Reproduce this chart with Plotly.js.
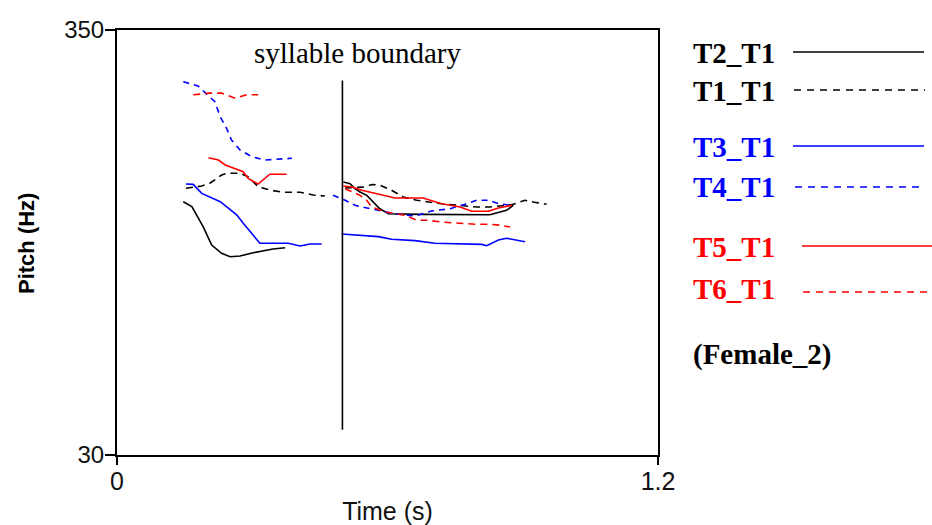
<!DOCTYPE html>
<html>
<head>
<meta charset="utf-8">
<script src="https://cdn.plot.ly/plotly-3.0.1.min.js"></script>
<style>html,body{margin:0;padding:0;background:#fff;}#chart{width:932px;height:525px;}</style>
</head>
<body>
<div id="chart"></div>
<script>
// Pitch contours (time in s, pitch in Hz); null separates the two syllables
const t2_t1_time  = [0.147,0.166,0.191,0.210,0.232,0.251,0.273,0.302,0.346,0.373, null, 0.502,0.517,0.528,0.539,0.554,0.565,0.583,0.602,0.676,0.827,0.864,0.879];
const t2_t1_pitch = [220.7,217.0,201.9,188.1,181.9,179.3,179.8,182.3,185.1,186.1, null, 235.6,234.3,230.5,228.0,225.5,221.8,215.4,211.7,211.2,210.9,214.2,218.0];

const t1_t1_time  = [0.153,0.188,0.206,0.232,0.243,0.273,0.291,0.313,0.339,0.369,0.406,0.435,0.461, null, 0.506,0.550,0.566,0.583,0.609,0.635,0.665,0.698,0.720,0.798,0.827,0.876,0.905,0.931,0.953];
const t1_t1_pitch = [230.8,232.5,234.6,240.8,242.1,242.1,239.5,232.0,229.5,227.8,227.8,225.8,225.0, null, 231.0,231.8,233.7,233.1,229.3,224.3,221.8,220.0,219.2,216.7,216.7,218.5,221.8,220.0,218.8];

const t3_t1_time  = [0.153,0.169,0.188,0.206,0.229,0.247,0.266,0.280,0.295,0.317,0.380,0.406,0.428,0.454, null, 0.498,0.532,0.580,0.609,0.661,0.705,0.809,0.820,0.846,0.864,0.883,0.905];
const t3_t1_pitch = [234.0,233.8,227.0,224.5,220.7,215.8,210.7,204.5,198.1,189.4,189.4,187.4,188.9,188.9, null, 196.4,195.6,194.4,192.4,191.4,189.4,188.6,187.6,191.9,193.2,191.9,190.6];

const t4_t1_time  = [0.147,0.180,0.217,0.229,0.243,0.254,0.273,0.299,0.328,0.388, null, 0.479,0.506,0.528,0.557,0.583,0.613,0.661,0.698,0.720,0.739,0.772,0.798,0.824,0.846,0.876];
const t4_t1_pitch = [311.1,307.8,296.0,284.7,276.0,267.2,259.6,254.6,252.1,253.4, null, 225.5,221.8,218.0,216.0,214.2,211.7,210.0,213.7,214.7,215.4,218.8,221.8,221.8,219.2,218.0];

const t5_t1_time  = [0.203,0.225,0.240,0.262,0.280,0.291,0.313,0.339,0.376, null, 0.502,0.521,0.543,0.565,0.595,0.617,0.679,0.720,0.739,0.761,0.787,0.824,0.846,0.876];
const t5_t1_pitch = [253.8,252.1,248.4,245.9,243.3,238.3,234.0,241.4,241.4, null, 232.5,231.8,229.3,227.5,225.5,223.5,223.5,219.2,218.0,216.7,213.5,213.5,216.0,218.0];

const t6_t1_time  = [0.169,0.206,0.232,0.262,0.288,0.313, null, 0.506,0.539,0.554,0.565,0.595,0.639,0.665,0.691,0.720,0.739,0.798,0.827,0.850,0.872];
const t6_t1_pitch = [301.2,302.5,302.5,298.7,301.2,301.2, null, 230.5,225.5,221.8,216.7,213.0,210.5,206.7,206.7,205.4,204.9,203.7,203.7,203.0,201.7];

const boundaryTime = [0.5, 0.5];
const boundaryPitch = [312, 49];

const seriesNames = ["T2_T1","T1_T1","T3_T1","T4_T1","T5_T1","T6_T1"];
const speakerLabel = "(Female_2)";
const xTickVals = [0, 1.2], xTickText = ["0", "1.2"];
const yTickVals = [30, 350], yTickText = ["30", "350"];

const BLACK = "#000000", BLUE = "#0000ff", RED = "#ff0000";

function tr(x, y, color, dash) {
  return {x: x, y: y, type: "scatter", mode: "lines", connectgaps: false,
          line: {color: color, width: 1.6, dash: dash}, hoverinfo: "skip", showlegend: false};
}

const traces = [
  tr(t2_t1_time, t2_t1_pitch, BLACK, "solid"),
  tr(t1_t1_time, t1_t1_pitch, BLACK, "7px,5px"),
  tr(t3_t1_time, t3_t1_pitch, BLUE, "solid"),
  tr(t4_t1_time, t4_t1_pitch, BLUE, "6px,5px"),
  tr(t5_t1_time, t5_t1_pitch, RED, "solid"),
  tr(t6_t1_time, t6_t1_pitch, RED, "7px,5px"),
  {x: boundaryTime, y: boundaryPitch, type: "scatter", mode: "lines",
   line: {color: BLACK, width: 1.6}, hoverinfo: "skip", showlegend: false}
];

// legend layout (paper coords relative to plot area 117..658 x 30..455)
const px = v => (v - 117) / 541;
const py = v => (455 - v) / 425;
const legendRows = [
  {name: seriesNames[0], color: BLACK, dash: "solid", y: 52, x0: 793, x1: 924},
  {name: seriesNames[1], color: BLACK, dash: "7px,6px", y: 90, x0: 794, x1: 925},
  {name: seriesNames[2], color: BLUE, dash: "solid", y: 146, x0: 793, x1: 924},
  {name: seriesNames[3], color: BLUE, dash: "7px,6px", y: 187, x0: 795, x1: 925},
  {name: seriesNames[4], color: RED, dash: "solid", y: 246, x0: 802, x1: 932},
  {name: seriesNames[5], color: RED, dash: "7px,6px", y: 292, x0: 803, x1: 932}
];
const legendTextY = [53, 91, 147, 187, 247, 289];

const shapes = legendRows.map(r => ({
  type: "line", xref: "paper", yref: "paper",
  x0: px(r.x0), x1: px(r.x1), y0: py(r.y), y1: py(r.y),
  line: {color: r.color, width: 1.6, dash: r.dash}
}));

const annotations = legendRows.map((r, i) => ({
  xref: "paper", yref: "paper", x: px(691), y: py(legendTextY[i]),
  xanchor: "left", yanchor: "middle", showarrow: false, text: r.name,
  font: {family: "Liberation Serif, Times New Roman, serif", size: 29, color: r.color, weight: "bold"}
}));
annotations.push({
  xref: "paper", yref: "paper", x: px(691), y: py(354), xanchor: "left", yanchor: "middle",
  showarrow: false, text: "<b>" + speakerLabel + "</b>",
  font: {family: "Liberation Serif, Times New Roman, serif", size: 29, color: BLACK}
});
annotations.push({
  xref: "paper", yref: "paper", x: px(357), y: py(53), xanchor: "center", yanchor: "middle",
  showarrow: false, text: "syllable boundary",
  font: {family: "Liberation Serif, Times New Roman, serif", size: 29, color: BLACK}
});
annotations.push({
  xref: "paper", yref: "paper", x: px(26), y: py(244), xanchor: "center", yanchor: "middle",
  showarrow: false, text: "<b>Pitch (Hz)</b>", textangle: -90,
  font: {family: "Liberation Sans, Arial, sans-serif", size: 22, color: BLACK}
});

const layout = {
  width: 932, height: 525,
  margin: {l: 117, r: 274, t: 30, b: 70},
  paper_bgcolor: "#ffffff", plot_bgcolor: "#ffffff",
  showlegend: false,
  xaxis: {
    range: [0, 1.2], tickvals: xTickVals, ticktext: xTickText,
    showgrid: false, zeroline: false, showline: true, mirror: true,
    linecolor: BLACK, linewidth: 2, ticks: "outside", ticklen: 8, tickwidth: 1.5, tickcolor: BLACK,
    ticklabelstandoff: -5,
    tickfont: {family: "Liberation Sans, Arial, sans-serif", size: 25, color: "#111"},
    title: {text: "Time (s)", standoff: 12, font: {family: "Liberation Sans, Arial, sans-serif", size: 25, color: "#111"}},
    fixedrange: true
  },
  yaxis: {
    range: [30, 350], tickvals: yTickVals, ticktext: yTickText,
    showgrid: false, zeroline: false, showline: true, mirror: true,
    linecolor: BLACK, linewidth: 2, ticks: "outside", ticklen: 10, tickwidth: 1.5, tickcolor: BLACK,
    ticklabelstandoff: -4,
    tickfont: {family: "Liberation Sans, Arial, sans-serif", size: 24, color: "#111"},
    fixedrange: true
  },
  shapes: shapes,
  annotations: annotations
};

Plotly.newPlot("chart", traces, layout, {staticPlot: true, displayModeBar: false});
</script>
</body>
</html>
